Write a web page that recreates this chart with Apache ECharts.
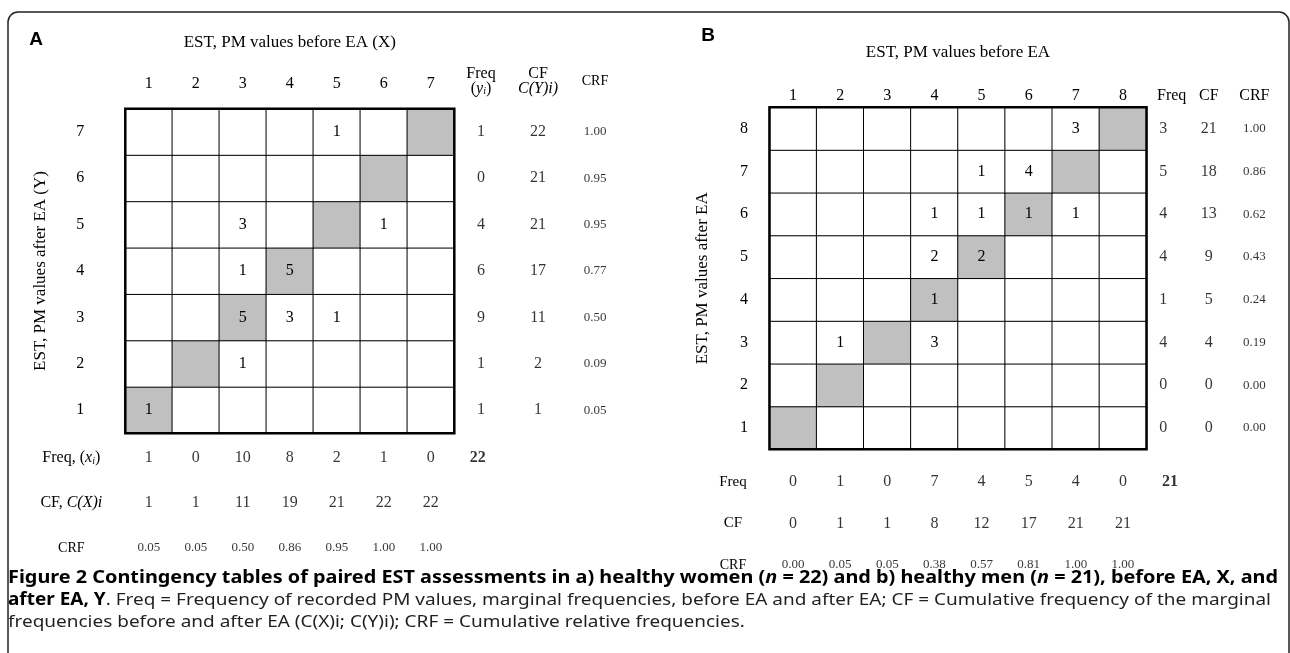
<!DOCTYPE html>
<html><head><meta charset="utf-8">
<script src="https://cdn.jsdelivr.net/npm/echarts@6/dist/echarts.min.js"></script>
<style>html,body{margin:0;padding:0;background:#fff}#c{width:1290px;height:653px}</style>
</head><body><div id="c"></div>
<script>
// ---------- Panel A data (women, n = 22) ----------
const xCatsA = ['1','2','3','4','5','6','7'];
const yCatsA = ['1','2','3','4','5','6','7'];
// rows: Y (after EA) = 1..7 ; columns: X (before EA) = 1..7
const countsA = [
  [1,0,0,0,0,0,0],
  [0,0,1,0,0,0,0],
  [0,0,5,3,1,0,0],
  [0,0,1,5,0,0,0],
  [0,0,3,0,0,1,0],
  [0,0,0,0,0,0,0],
  [0,0,0,0,1,0,0]
];
const freqYA = [1,1,9,6,4,0,1];
const cfYA   = [1,2,11,17,21,21,22];
const crfYA  = [0.05,0.09,0.50,0.77,0.95,0.95,1.00];
const freqXA = [1,0,10,8,2,1,0];
const cfXA   = [1,1,11,19,21,22,22];
const crfXA  = [0.05,0.05,0.50,0.86,0.95,1.00,1.00];
const totalA = 22;

// ---------- Panel B data (men, n = 21) ----------
const xCatsB = ['1','2','3','4','5','6','7','8'];
const yCatsB = ['1','2','3','4','5','6','7','8'];
const countsB = [
  [0,0,0,0,0,0,0,0],
  [0,0,0,0,0,0,0,0],
  [0,1,0,3,0,0,0,0],
  [0,0,0,1,0,0,0,0],
  [0,0,0,2,2,0,0,0],
  [0,0,0,1,1,1,1,0],
  [0,0,0,0,1,4,0,0],
  [0,0,0,0,0,0,3,0]
];
const freqYB = [0,0,4,1,4,4,5,3];
const cfYB   = [0,0,4,5,9,13,18,21];
const crfYB  = [0.00,0.00,0.19,0.24,0.43,0.62,0.86,1.00];
const freqXB = [0,1,0,7,4,5,4,0];
const cfXB   = [0,1,1,8,12,17,21,21];
const crfXB  = [0.00,0.05,0.05,0.38,0.57,0.81,1.00,1.00];
const totalB = 21;

const margCols = ['Freq','CF','CRF'];
const margRows = ['CRF','CF','Freq']; // bottom to top

// ---------- styling ----------
const SERIF = '"Liberation Serif", "DejaVu Serif", serif';
const SANS = '"Noto Sans", "Open Sans", sans-serif';
const GRAY = '#c0c0c0';
const NUM = 16;

function heatData(counts) {
  const d = [];
  counts.forEach((row, yi) => row.forEach((v, xi) => {
    d.push({ value: [xi, yi, v], itemStyle: { color: xi === yi ? GRAY : '#ffffff' } });
  }));
  return d;
}
function heatSeries(counts, xi, yi) {
  return {
    type: 'heatmap', xAxisIndex: xi, yAxisIndex: yi, data: heatData(counts),
    itemStyle: { borderColor: '#000', borderWidth: 1 },
    label: { show: true, fontFamily: SERIF, fontSize: NUM, color: '#000',
      formatter: p => (p.value[2] > 0 ? String(p.value[2]) : '') },
    emphasis: { disabled: true }, silent: true
  };
}
function textSeries(data, xi, yi, size, fixed, bold) {
  return {
    type: 'scatter', xAxisIndex: xi, yAxisIndex: yi, data: data,
    symbolSize: 1, itemStyle: { color: 'rgba(0,0,0,0)' }, silent: true,
    label: { show: true, position: 'inside', fontFamily: SERIF, fontSize: size, color: '#000',
      fontWeight: bold ? 'bold' : 'normal',
      formatter: p => fixed ? Number(p.value[2]).toFixed(2) : String(p.value[2]) }
  };
}
const col = (arr, c) => arr.map((v, i) => [c, i, v]);
const row = (arr, r) => arr.map((v, i) => [i, r, v]);

const labelRich = {
  n: { fontFamily: SERIF, fontSize: NUM, color: '#000' },
  h: { fontFamily: SERIF, fontSize: NUM, color: '#000', padding: [0, 0, 0, 17] },
  m: { fontFamily: SERIF, fontSize: 15, color: '#000' },
  c: { fontFamily: SERIF, fontSize: 14, color: '#000' },
  i: { fontFamily: SERIF, fontSize: NUM, fontStyle: 'italic', color: '#000' },
  s: { fontFamily: SERIF, fontSize: 10, fontStyle: 'italic', color: '#000', verticalAlign: 'bottom' }
};
const headA = {
  'Freq': '{n|Freq}\n{n|(}{i|y}{s|i}{n|)}',
  'CF': '{n|CF}\n{i|C(Y)i)}',
  'CRF': '{c|CRF}'
};
const rowHeadA = {
  'Freq': '{n|Freq, (}{i|x}{s|i}{n|)}',
  'CF': '{n|CF, }{i|C(X)i}',
  'CRF': '{c|CRF}'
};
const headB = { 'Freq': '{h|Freq}', 'CF': '{n|CF}', 'CRF': '{n|CRF}' };
const rowHeadB = { 'Freq': '{m|Freq}', 'CF': '{m|CF}', 'CRF': '{c|CRF}' };

const hidden = { axisLine: { show: false }, axisTick: { show: false }, splitLine: { show: false } };
const numLabel = { fontFamily: SERIF, fontSize: NUM, color: '#000', interval: 0 };
const nameStyle = { fontFamily: SERIF, fontSize: 17, color: '#000' };

// ---------- caption ----------
const capLine1 = [
  ['b', 'Figure 2 Contingency tables of paired EST assessments in a) healthy women ('],
  ['bi', 'n'], ['b', ' = 22) and b) healthy men ('], ['bi', 'n'], ['b', ' = 21), before EA, X, and']
];
const capLine2 = [
  ['b', 'after EA, Y'],
  ['r', '. Freq = Frequency of recorded PM values, marginal frequencies, before EA and after EA; CF = Cumulative frequency of the marginal']
];
const capLine3 = [
  ['r', 'frequencies before and after EA (C(X)i; C(Y)i); CRF = Cumulative relative frequencies.']
];
const CAP = 17;
const capRich = {
  b: { fontFamily: SANS, fontSize: CAP, fontWeight: 'bold', fill: '#000' },
  bi: { fontFamily: SANS, fontSize: CAP, fontWeight: 'bold', fontStyle: 'italic', fill: '#000' },
  r: { fontFamily: SANS, fontSize: CAP, fill: '#231f20' }
};
const fontOf = k => (k === 'bi' ? 'italic ' : '') + (k === 'r' ? 'normal ' : 'bold ') + CAP + 'px ' + SANS;
const mctx = document.createElement('canvas').getContext('2d');
function lineWidth(segs) {
  let w = 0;
  segs.forEach(([k, t]) => { mctx.font = fontOf(k); w += mctx.measureText(t).width; });
  return w;
}
const richStr = segs => segs.map(([k, t]) => '{' + k + '|' + t + '}').join('');
const s1 = 1270 / lineWidth(capLine1);
const s2 = 1263 / lineWidth(capLine2);

const chart = echarts.init(document.getElementById('c'), null, { renderer: 'canvas' });
chart.setOption({
  animation: false,
  backgroundColor: '#fff',
  grid: [
    { left: 125.3, top: 108.7, width: 329, height: 324.6, show: true, borderColor: '#000', borderWidth: 2.5, backgroundColor: 'rgba(0,0,0,0)', z: 10 },
    { left: 452.5, top: 108.7, width: 171, height: 324.6 },
    { left: 125.3, top: 435.5, width: 376, height: 135 },
    { left: 769.5, top: 107.3, width: 377, height: 342, show: true, borderColor: '#000', borderWidth: 2.5, backgroundColor: 'rgba(0,0,0,0)', z: 10 },
    { left: 1140.4, top: 107.3, width: 136.8, height: 342 },
    { left: 769.5, top: 461.25, width: 424.1, height: 124.5 }
  ],
  xAxis: [
    Object.assign({ gridIndex: 0, type: 'category', data: xCatsA, position: 'top',
      axisLabel: Object.assign({ margin: 25, verticalAlign: 'middle' }, numLabel),
      name: 'EST, PM values before EA (X)', nameLocation: 'middle', nameGap: 58, nameTextStyle: nameStyle }, hidden),
    Object.assign({ gridIndex: 1, type: 'category', data: margCols, position: 'top',
      axisLabel: { margin: 27, verticalAlign: 'middle', interval: 0, lineHeight: 15, formatter: v => headA[v], rich: labelRich } }, hidden),
    { gridIndex: 2, type: 'category', data: xCatsA.concat(['n']), show: false },
    Object.assign({ gridIndex: 3, type: 'category', data: xCatsB, position: 'top',
      axisLabel: Object.assign({ margin: 12, verticalAlign: 'middle' }, numLabel),
      name: 'EST, PM values before EA', nameLocation: 'middle', nameGap: 46, nameTextStyle: nameStyle }, hidden),
    Object.assign({ gridIndex: 4, type: 'category', data: margCols, position: 'top',
      axisLabel: { margin: 12, verticalAlign: 'middle', interval: 0, formatter: v => headB[v], rich: labelRich } }, hidden),
    { gridIndex: 5, type: 'category', data: xCatsB.concat(['n']), show: false }
  ],
  yAxis: [
    Object.assign({ gridIndex: 0, type: 'category', data: yCatsA,
      axisLabel: Object.assign({ margin: 45, align: 'center' }, numLabel),
      name: 'EST, PM values after EA (Y)', nameLocation: 'middle', nameRotate: 90, nameGap: 76, nameTextStyle: nameStyle }, hidden),
    { gridIndex: 1, type: 'category', data: yCatsA, show: false },
    Object.assign({ gridIndex: 2, type: 'category', data: margRows,
      axisLabel: { margin: 54, align: 'center', interval: 0, formatter: v => rowHeadA[v], rich: labelRich } }, hidden),
    Object.assign({ gridIndex: 3, type: 'category', data: yCatsB,
      axisLabel: Object.assign({ margin: 25.5, align: 'center' }, numLabel),
      name: 'EST, PM values after EA', nameLocation: 'middle', nameRotate: 90, nameGap: 58, nameTextStyle: nameStyle }, hidden),
    { gridIndex: 4, type: 'category', data: yCatsB, show: false },
    Object.assign({ gridIndex: 5, type: 'category', data: margRows,
      axisLabel: { margin: 36.5, align: 'center', interval: 0, formatter: v => rowHeadB[v], rich: labelRich } }, hidden)
  ],
  series: [
    heatSeries(countsA, 0, 0),
    textSeries(col(freqYA, 0), 1, 1, NUM, false),
    textSeries(col(cfYA, 1), 1, 1, NUM, false),
    textSeries(col(crfYA, 2), 1, 1, 13, true),
    textSeries(row(freqXA, 2), 2, 2, NUM, false),
    textSeries([[7, 2, totalA]], 2, 2, NUM, false, true),
    textSeries(row(cfXA, 1), 2, 2, NUM, false),
    textSeries(row(crfXA, 0), 2, 2, 13, true),
    heatSeries(countsB, 3, 3),
    textSeries(col(freqYB, 0), 4, 4, NUM, false),
    textSeries(col(cfYB, 1), 4, 4, NUM, false),
    textSeries(col(crfYB, 2), 4, 4, 13, true),
    textSeries(row(freqXB, 2), 5, 5, NUM, false),
    textSeries([[8, 2, totalB]], 5, 5, NUM, false, true),
    textSeries(row(cfXB, 1), 5, 5, NUM, false),
    textSeries(row(crfXB, 0), 5, 5, 13, true)
  ],
  graphic: [
    { type: 'rect', shape: { x: 8, y: 12, width: 1281, height: 720, r: 10 }, style: { fill: 'none', stroke: '#222', lineWidth: 1.5 }, silent: true },
    { type: 'text', x: 36, y: 40, style: { text: 'A', font: 'bold 19px "Liberation Sans", Arial, sans-serif', fill: '#000', align: 'center', verticalAlign: 'middle' } },
    { type: 'text', x: 708, y: 36, style: { text: 'B', font: 'bold 19px "Liberation Sans", Arial, sans-serif', fill: '#000', align: 'center', verticalAlign: 'middle' } },
    { type: 'text', x: 8, y: 578, scaleX: s1, style: { text: richStr(capLine1), rich: capRich, verticalAlign: 'middle' } },
    { type: 'text', x: 8, y: 600, scaleX: s2, style: { text: richStr(capLine2), rich: capRich, verticalAlign: 'middle' } },
    { type: 'text', x: 8, y: 622, scaleX: s2, style: { text: richStr(capLine3), rich: capRich, verticalAlign: 'middle' } }
  ]
});
</script></body></html>
